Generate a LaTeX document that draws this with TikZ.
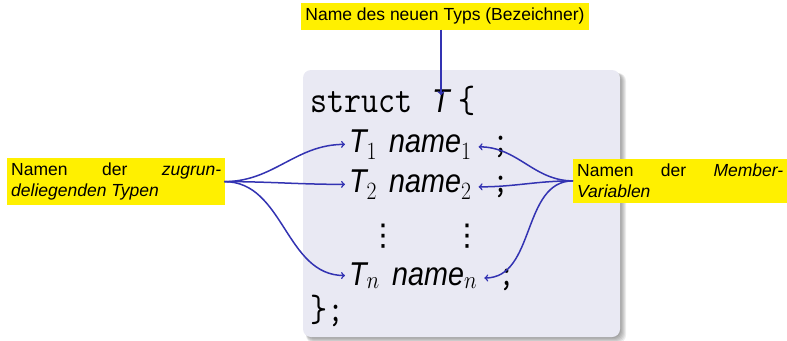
\documentclass[tikz,border=0pt]{standalone}
\usepackage{fontspec}
\usepackage{graphicx}
\setmainfont{Liberation Sans}
\newfontfamily\symbfont{DejaVu Sans}
\usetikzlibrary{positioning}
\definecolor{notiz}{RGB}{255,240,0}
\definecolor{pfeil}{RGB}{51,51,178}
\definecolor{blockbg}{RGB}{233,233,243}
\newcommand\schmal[1]{\scalebox{0.87}[1]{#1}}
\tikzset{
  notizbox/.style={fill=notiz,inner xsep=4pt,inner ysep=5pt,font=\fontsize{17.5}{20.5}\selectfont},
  code/.style={inner sep=0pt,anchor=base west,font=\fontsize{33}{38}\selectfont},
  tt/.style={inner sep=0pt,anchor=base west,font=\fontsize{38}{44}\selectfont\ttfamily},
  punkte/.style={inner sep=0pt,anchor=base,font=\fontsize{30}{36}\selectfont\symbfont},
  hinweis/.style={->,pfeil,line width=1.5pt,>=to}
}
\begin{document}
\begin{tikzpicture}[x=1pt,y=-1pt]
        \useasboundingbox (0,0) rectangle (787,340);
        % block with shadow
        \foreach \s in {1,...,6}
          \fill[black,opacity=0.07,rounded corners=8pt] (306,73) rectangle (620+\s,337+\s);
        \fill[blockbg,rounded corners=8pt] (303,70) rectangle (620,337);
        % code
        \node[tt] (kw) at (310,112) {\schmal{struct}};
        \node[code] (T) at (432,112) {\schmal{\itshape T}};
        \node[tt] (auf) at (458,112) {\schmal{\{}};
        \node[code] (t1) at (349,152) {\schmal{\itshape T$_1$}};
        \node[code] (n1) at (389,152) {\schmal{\itshape name$_1$}};
        \node[tt] (s1) at (492,152) {\schmal{;}};
        \node[code] (t2) at (349,192) {\schmal{\itshape T$_2$}};
        \node[code] (n2) at (389,192) {\schmal{\itshape name$_2$}};
        \node[tt] (s2) at (492,192) {\schmal{;}};
        \node[punkte] (d1) at (383,245) {⋮};
        \node[punkte] (d2) at (467,245) {⋮};
        \node[code] (tn) at (349,285) {\schmal{\itshape T$_n$}};
        \node[code] (nn) at (392,285) {\schmal{\itshape name$_n$}};
        \node[tt] (sn) at (498,285) {\schmal{;}};
        \node[tt] (zu) at (310,321) {\schmal{\};}};
        % notes
        \node[notizbox,anchor=north] (typ) at (445,3) {Name des neuen Typs (Bezeichner)};
        \node[notizbox,anchor=north west,text width=210pt,align=justify] (links) at (7,158)
          {Namen der \textit{zugrun-deliegenden Typen}};
        \node[notizbox,anchor=north west,text width=206pt,align=justify] (rechts) at (573,159)
          {Namen der \textit{Member-Variablen}};
        % arrows
        \draw[hinweis] (typ.south -| T.north) -- ([yshift=-6pt]T.north);
        \draw[hinweis] ([xshift=-1pt]links.east) to[out=0,in=180] ([xshift=-4pt]t1.west);
        \draw[hinweis] ([xshift=-1pt]links.east) to[out=0,in=180] ([xshift=-4pt]t2.west);
        \draw[hinweis] ([xshift=-1pt]links.east) to[out=0,in=180] ([xshift=-4pt]tn.west);
        \draw[hinweis] (rechts.west) to[out=180,in=0] ([xshift=7pt]n1.east);
        \draw[hinweis] (rechts.west) to[out=180,in=0] ([xshift=7pt]n2.east);
        \draw[hinweis] (rechts.west) to[out=180,in=0] ([xshift=7pt]nn.east);
      \end{tikzpicture}
\end{document}
